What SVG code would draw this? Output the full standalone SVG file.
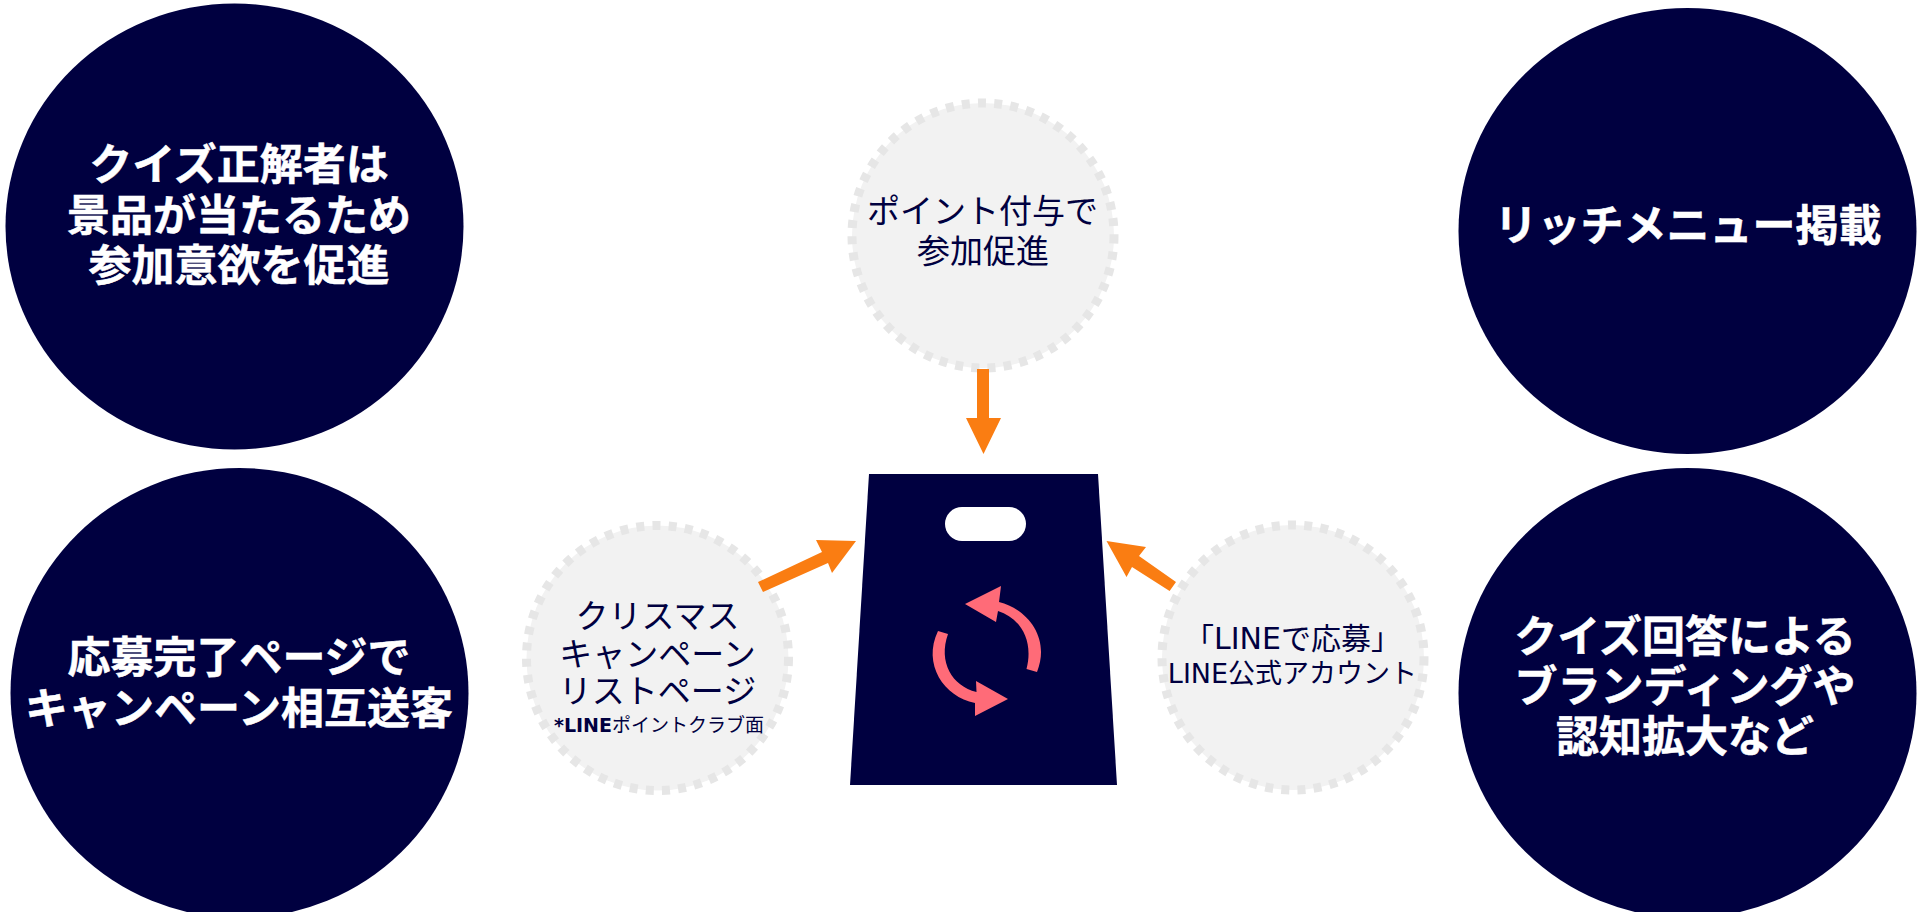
<svg xmlns="http://www.w3.org/2000/svg" width="1921" height="912" viewBox="0 0 1921 912">
<style>
text{font-family:"DejaVu Sans","Noto Sans CJK JP",sans-serif;text-anchor:middle}
.big{fill:#000040}
.bt{fill:#fff;font-size:43px;font-weight:700;stroke:#fff;stroke-width:.5}
.g{fill:#f2f2f2;stroke:#e6e6e6;stroke-width:9;stroke-dasharray:8 8.2}
.gt{fill:#000040;font-size:33px}
.gs{fill:#000040;font-size:27px}
.ar{fill:#fa7d12}
.rf{fill:#ff6b78}
</style>
<rect width="1921" height="912" fill="#fff"/>
<g id="n1"><ellipse class="big" cx="234.500" cy="226.500" rx="229" ry="223"/>
<text class="bt" x="239" y="180">クイズ正解者は</text><text class="bt" x="239" y="231">景品が当たるため</text><text class="bt" x="239" y="281">参加意欲を促進</text></g>
<g id="n2"><ellipse class="big" cx="239.500" cy="693" rx="229" ry="225"/>
<text class="bt" x="239" y="673">応募完了ページで</text><text class="bt" x="239" y="724">キャンペーン相互送客</text></g>
<g id="n3"><ellipse class="big" cx="1687.500" cy="231" rx="229" ry="223"/>
<text class="bt" x="1688" y="241">リッチメニュー掲載</text></g>
<g id="n4"><ellipse class="big" cx="1687.500" cy="693" rx="229" ry="225"/>
<text class="bt" x="1685" y="652">クイズ回答による</text><text class="bt" x="1685" y="702">ブランディングや</text><text class="bt" x="1685" y="752">認知拡大など</text></g>
<g id="n5"><ellipse class="g" cx="983" cy="235.500" rx="131" ry="132.500"/>
<text class="gt" x="982.500" y="223">ポイント付与で</text><text class="gt" x="983" y="263">参加促進</text></g>
<g id="n6"><ellipse class="g" cx="657.500" cy="658" rx="131" ry="132.500"/>
<text class="gt" x="657.500" y="628">クリスマス</text><text class="gt" x="657.500" y="666">キャンペーン</text><text class="gt" x="657.500" y="703">リストページ</text>
<text x="659" y="732" style="font-size:19px;fill:#000040"><tspan font-weight="700">*LINE</tspan>ポイントクラブ面</text></g>
<g id="n7"><ellipse class="g" cx="1293" cy="657.500" rx="131" ry="132.500"/>
<text style="fill:#000040;font-size:30px" x="1292.500" y="649">「LINEで応募」</text><text class="gs" x="1292.500" y="683">LINE公式アカウント</text></g>
<g id="n8"><path class="big" d="M869 474H1098L1117 785H850Z"/>
<rect x="945" y="507" width="81" height="34" rx="17" fill="#fff"/>
<path class="rf" d="M1037 672L1026.500 669C1034 640 1020 618 998 611L996 622L965 604L1001 586L999 602C1030 610 1050 640 1037 672Z"/>
<path class="rf" d="M938 631L948 634C938 662 952 686 976.500 692L976 681L1008 699L975 716L975 703C944 697 922 664 938 631Z"/></g>
<g id="connectors">
<path class="ar" d="M977 369H989V418H1001L983.500 454L966 418H977Z"/>
<path class="ar" d="M758 582L822 552L816 540L856 541L832 573L828 563L763 592Z"/>
<path class="ar" d="M1106.500 541L1146 547L1139 556L1176 582L1169.600 591L1132 567L1126.500 577Z"/>
</g>
</svg>
